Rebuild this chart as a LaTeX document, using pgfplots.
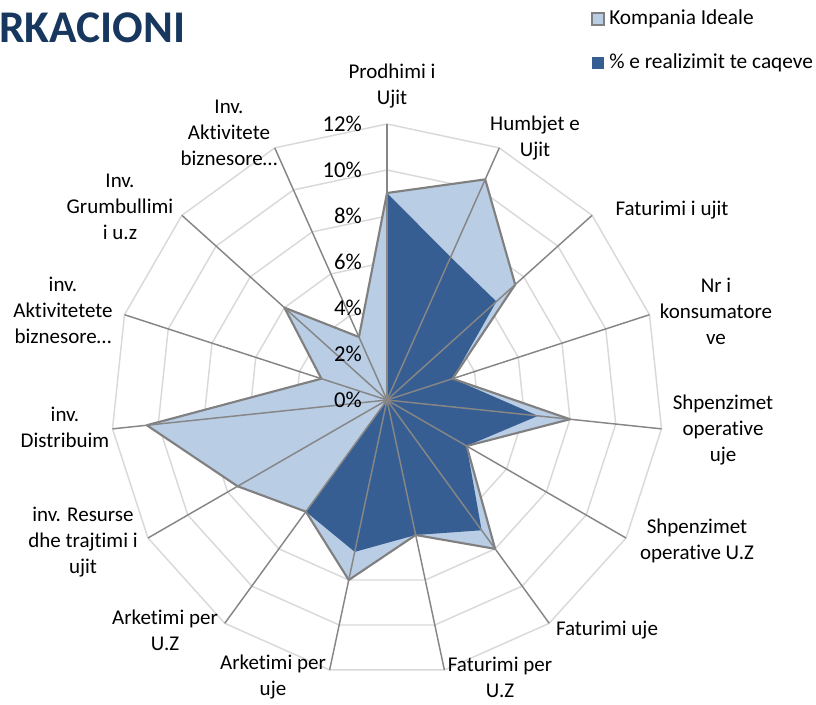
\documentclass[border=0pt]{standalone}
\usepackage{pgfplots}
\pgfplotsset{compat=1.18}
\usepackage{fontspec}
\setmainfont{Carlito}[Ligatures={NoCommon}]
\definecolor{lightfill}{RGB}{185,205,229}
\definecolor{darkfill}{RGB}{54,94,146}
\definecolor{bordergrey}{RGB}{128,128,128}
\definecolor{spokegrey}{RGB}{134,134,134}
\definecolor{ringgrey}{RGB}{217,217,217}
\definecolor{titleblue}{RGB}{23,55,94}
\newcommand{\PX}[2]{({(#1-387)*0.75pt},{(400-#2)*0.75pt})}
\newcommand{\lab}{\fontsize{15.75}{19.5}\selectfont}
\newcommand{\ti}{t\kern0pt i}
\begin{document}
\begin{tikzpicture}
\path[use as bounding box] \PX{0}{0} rectangle \PX{816}{704};
\begin{axis}[hide axis, x=17.25pt, y=17.25pt, xmin=-12, xmax=12, ymin=-12, ymax=12,
  clip=false, at={(0,0)}, anchor=center]
% rings
\pgfplotsinvokeforeach{2,4,6,8,10,12}{
\addplot[ringgrey, line width=1.1pt, data cs=polar, mark=none] coordinates {
(90,#1) (66,#1) (42,#1) (18,#1) (-6,#1) (-30,#1) (-54,#1) (-78,#1) (-102,#1)
(-126,#1) (-150,#1) (-174,#1) (-198,#1) (-222,#1) (-246,#1) (90,#1)};
}
% Kompania Ideale
\addplot[fill=lightfill, draw=none, data cs=polar, mark=none] coordinates {
(90,9) (66,10.5) (42,7.5) (18,3) (-6,8) (-30,4) (-54,8) (-78,6) (-102,8)
(-126,6) (-150,7.5) (-174,10.5) (-198,3) (-222,6) (-246,3) (90,9)};
% % e realizimit te caqeve
\addplot[fill=darkfill, draw=none, data cs=polar, mark=none] coordinates {
(90,9) (66,6.8) (42,6.4) (18,3) (-6,6.6) (-30,4) (-54,7) (-78,6) (-102,6.75)
(-126,6) (-150,0) (-174,0) (-198,0) (-222,0) (-246,0) (90,9)};
% border of Kompania Ideale
\addplot[bordergrey, line width=1.6pt, line join=round, data cs=polar, mark=none] coordinates {
(90,9) (66,10.5) (42,7.5) (18,3) (-6,8) (-30,4) (-54,8) (-78,6) (-102,8)
(-126,6) (-150,7.5) (-174,10.5) (-198,3) (-222,6) (-246,3) (90,9)};
% spokes
\pgfplotsinvokeforeach{90,66,42,18,-6,-30,-54,-78,-102,-126,-150,-174,-198,-222,-246}{
\addplot[spokegrey, line width=1.1pt, data cs=polar, mark=none] coordinates {(#1,0) (#1,12)};
}
\end{axis}
% radial tick labels
\begin{scope}[font=\fontsize{17}{20}\selectfont]
\node[anchor=east, inner sep=0pt] at \PX{362}{400} {0\%};
\node[anchor=east, inner sep=0pt] at \PX{362}{354} {2\%};
\node[anchor=east, inner sep=0pt] at \PX{362}{308} {4\%};
\node[anchor=east, inner sep=0pt] at \PX{362}{262} {6\%};
\node[anchor=east, inner sep=0pt] at \PX{362}{216} {8\%};
\node[anchor=east, inner sep=0pt] at \PX{362}{170} {10\%};
\node[anchor=east, inner sep=0pt] at \PX{362}{124} {12\%};
\end{scope}
% category labels
\begin{scope}[every node/.style={align=center, inner sep=0pt, font=\lab}]
\node at \PX{392}{86} {Prodhimi i\\Ujit};
\node at \PX{535}{138} {Humbjet e\\Ujit};
\node at \PX{672}{210} {Faturimi i ujit};
\node at \PX{716}{311} {Nr i\\konsumatore\\ve};
\node at \PX{723}{430} {Shpenzimet\\opera\ti ve\\uje};
\node at \PX{697}{541} {Shpenzimet\\opera\ti ve U.Z};
\node at \PX{607}{630} {Faturimi uje};
\node at \PX{500}{677} {Faturimi per\\U.Z};
\node at \PX{273}{677} {Arketimi per\\uje};
\node at \PX{165}{630} {Arketimi per\\U.Z};
\node at \PX{83}{542} {inv. Resurse\\dhe traj\ti mi i\\ujit};
\node at \PX{65}{427} {inv.\\Distribuim};
\node at \PX{63}{310} {inv.\\Ak\ti vitetete\\biznesore\dots};
\node at \PX{120}{207} {Inv.\\Grumbullimi\\i u.z};
\node at \PX{229}{133} {Inv.\\Ak\ti vitete\\biznesore\dots};
\end{scope}
% title fragment
\node[anchor=west, inner sep=0pt, text=titleblue, font=\fontsize{34}{37}\selectfont\bfseries] at \PX{-1}{28} {RKACIONI};
% legend
\draw[bordergrey, fill=lightfill, line width=0.8pt] \PX{592}{13} rectangle \PX{604}{25};
\node[anchor=west, inner sep=0pt, font=\fontsize{16}{19}\selectfont] at \PX{609}{19} {Kompania Ideale};
\fill[darkfill] \PX{592}{57} rectangle \PX{604}{69};
\node[anchor=west, inner sep=0pt, font=\fontsize{16}{19}\selectfont] at \PX{609}{63} {\% e realizimit te caqeve};
\end{tikzpicture}
\end{document}
